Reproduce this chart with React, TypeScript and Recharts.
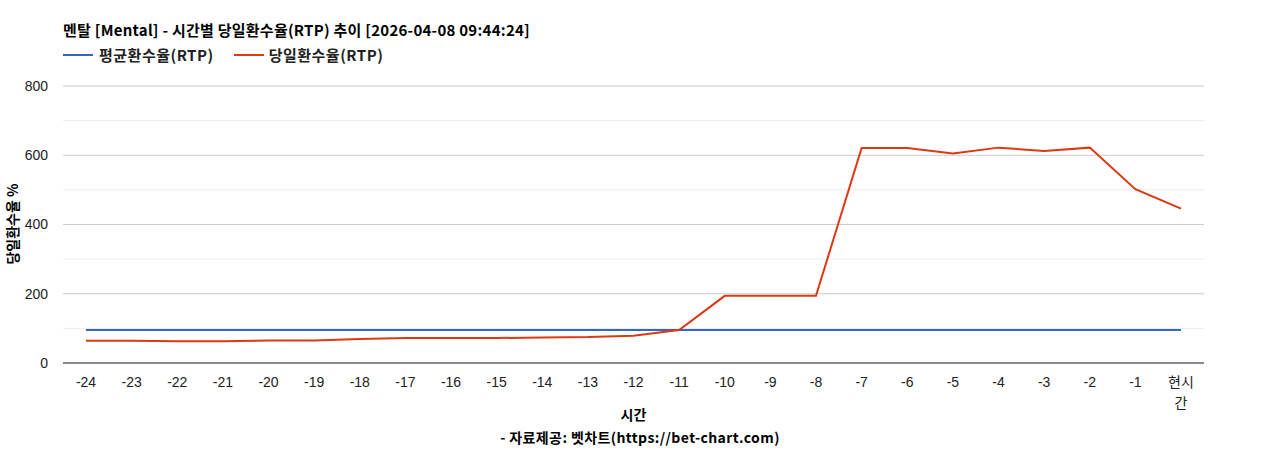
import React from "react";
import { LineChart, Line, XAxis, YAxis, CartesianGrid, ReferenceLine } from "recharts";

const hours = [
  "-24", "-23", "-22", "-21", "-20", "-19", "-18", "-17", "-16", "-15", "-14", "-13",
  "-12", "-11", "-10", "-9", "-8", "-7", "-6", "-5", "-4", "-3", "-2", "-1", "현시간",
];
const avgRtp = [
  95, 95, 95, 95, 95, 95, 95, 95, 95, 95, 95, 95,
  95, 95, 95, 95, 95, 95, 95, 95, 95, 95, 95, 95, 95,
];
const dayRtp = [
  64, 64, 63, 63, 65, 65, 69, 72, 72, 72, 74, 75,
  79, 95, 194, 194, 194, 621, 621, 605, 622, 612, 622, 502, 446,
];
const yTicks = [0, 200, 400, 600, 800];
const minorTicks = [100, 300, 500, 700];

const rows = hours.map((h, i) => ({ hour: h, avg: avgRtp[i], day: dayRtp[i] }));

const FONT = "'Noto Sans CJK KR', 'Noto Sans', sans-serif";
const NUM_FONT = "'Liberation Sans', Arial, 'Noto Sans CJK KR', sans-serif";

const HourTick = (props: any) => {
  const { x, y, payload } = props;
  const v: string = payload.value;
  const lines = v === "현시간" ? ["현시", "간"] : [v];
  return (
    <text x={x} y={y} textAnchor="middle" fill="#222" fontSize={14} fontFamily={NUM_FONT}>
      {lines.map((l, i) => (
        <tspan key={i} x={x} dy={i === 0 ? 16 : 21}>{l}</tspan>
      ))}
    </text>
  );
};

export default function App() {
  return (
    <div style={{ position: "absolute", left: 0, top: 0, width: 1268, height: 450, background: "#fff", fontFamily: FONT }}>
      {/* ── title ── */}
      <div style={{ position: "absolute", left: 63, top: 20, fontSize: 15, letterSpacing: 0.25, fontWeight: 700, color: "#000", whiteSpace: "nowrap", lineHeight: "20px" }}>
        멘탈 [Mental] - 시간별 당일환수율(RTP) 추이 [2026-04-08 09:44:24]
      </div>

      {/* ── legend ── */}
      <div style={{ position: "absolute", left: 63, top: 45, display: "flex", alignItems: "center", fontSize: 15, letterSpacing: 0.5, fontWeight: 700, color: "#222", whiteSpace: "nowrap", lineHeight: "20px" }}>
        <span style={{ display: "inline-block", width: 30, height: 2, background: "#3366cc", marginRight: 6 }} />
        <span>평균환수율(RTP)</span>
        <span style={{ display: "inline-block", width: 30, height: 2, background: "#dc3912", marginLeft: 20, marginRight: 5 }} />
        <span>당일환수율(RTP)</span>
      </div>

      <LineChart width={1268} height={450} data={rows} margin={{ top: 86, right: 64, left: 13, bottom: 57 }}>
        <CartesianGrid vertical={false} stroke="#cccccc" />
        {minorTicks.map((t) => (
          <ReferenceLine key={t} y={t} stroke="#ebebeb" ifOverflow="extendDomain" />
        ))}
        <XAxis
          dataKey="hour"
          interval={0}
          padding={{ left: 23, right: 23 }}
          height={30}
          tickLine={false}
          axisLine={{ stroke: "#333", strokeWidth: 1 }}
          tick={<HourTick />}
        />
        <YAxis
          width={50}
          domain={[0, 800]}
          ticks={yTicks}
          tickLine={false}
          axisLine={false}
          tickMargin={9}
          tick={{ fill: "#222", fontSize: 14, fontFamily: NUM_FONT }}
        />
        <Line dataKey="avg" stroke="#3366cc" strokeWidth={2} dot={false} isAnimationActive={false} />
        <Line dataKey="day" stroke="#dc3912" strokeWidth={2} dot={false} isAnimationActive={false} />
      </LineChart>

      {/* ── axis titles ── */}
      <div style={{ position: "absolute", left: 12, top: 224, transform: "translate(-50%, -50%) rotate(-90deg)", fontSize: 14, fontWeight: 700, color: "#000", whiteSpace: "nowrap", lineHeight: "18px" }}>
        당일환수율 %
      </div>
      <div style={{ position: "absolute", left: 0, width: 1267, top: 404, textAlign: "center", fontSize: 14, fontWeight: 700, color: "#000", lineHeight: "20px" }}>
        시간
      </div>
      <div style={{ position: "absolute", left: 0, width: 1280, top: 427, textAlign: "center", fontSize: 14, letterSpacing: 0.4, fontWeight: 700, color: "#000", lineHeight: "20px" }}>
        - 자료제공: 벳차트(https://bet-chart.com)
      </div>
    </div>
  );
}
